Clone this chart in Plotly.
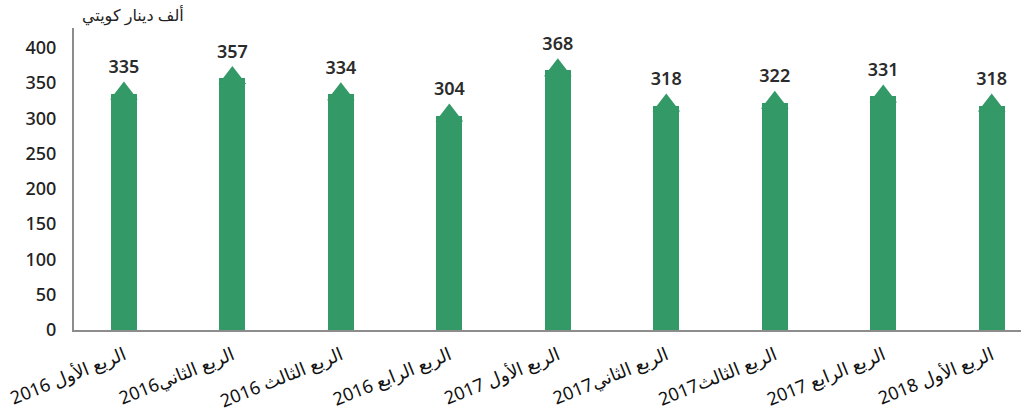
import plotly.graph_objs as go

# quarterly values, thousand KWD
quarters = ['الربع الأول 2016', 'الربع الثاني2016', 'الربع الثالث 2016', 'الربع الرابع 2016',
            'الربع الأول 2017', 'الربع الثاني2017', 'الربع الثالث2017', 'الربع الرابع 2017',
            'الربع الأول 2018']
values = [335, 357, 334, 304, 368, 318, 322, 331, 318]
y_ticks = [0, 50, 100, 150, 200, 250, 300, 350, 400]

green = '#339966'
font_family = 'Noto Sans, DejaVu Sans, sans-serif'

bars = go.Bar(x=quarters, y=values, marker={'color': green, 'line': {'width': 0}}, width=0.24,
              hoverinfo='x+y')
# pointed tops + value labels
tips = go.Scatter(x=quarters, y=values, mode='markers+text', text=[str(v) for v in values],
                  textposition='top center',
                  textfont={'size': 18, 'color': '#2b2b2b', 'family': font_family, 'weight': 600},
                  marker={'symbol': 'triangle-up', 'size': 24, 'color': green, 'line': {'width': 0}},
                  hoverinfo='skip')

layout = go.Layout(
    width=1021, height=419, showlegend=False,
    paper_bgcolor='white', plot_bgcolor='white',
    margin={'l': 74, 'b': 89, 't': 28, 'r': 0},
    font={'family': font_family, 'color': '#222222', 'size': 16},
    bargap=0,
    xaxis={'showline': True, 'linecolor': '#8c8c8c', 'linewidth': 2, 'showgrid': False,
           'range': [-0.46, 8.27], 'automargin': False, 'ticks': '', 'tickangle': -22,
           'ticklabelstandoff': 6, 'tickfont': {'size': 18, 'color': '#111111'}},
    yaxis={'range': [0, 428], 'tickvals': y_ticks, 'showline': True, 'linecolor': '#8c8c8c',
           'linewidth': 2, 'showgrid': False, 'zeroline': False, 'ticks': '', 'automargin': False,
           'tickfont': {'size': 18, 'color': '#222222', 'weight': 500}, 'ticklabelstandoff': 12},
    annotations=[{'text': 'ألف دينار كويتي', 'xref': 'paper', 'yref': 'paper', 'x': 0.006, 'y': 1,
                  'xanchor': 'left', 'yanchor': 'bottom', 'showarrow': False,
                  'font': {'size': 16, 'color': '#222222'}}],
)

fig = go.Figure([bars, tips], layout=layout)
# drop the default 8px body margin so the figure fills the window
fig.write_html("out.html", config={'displayModeBar': False},
               post_script="document.body.style.margin = '0';")
